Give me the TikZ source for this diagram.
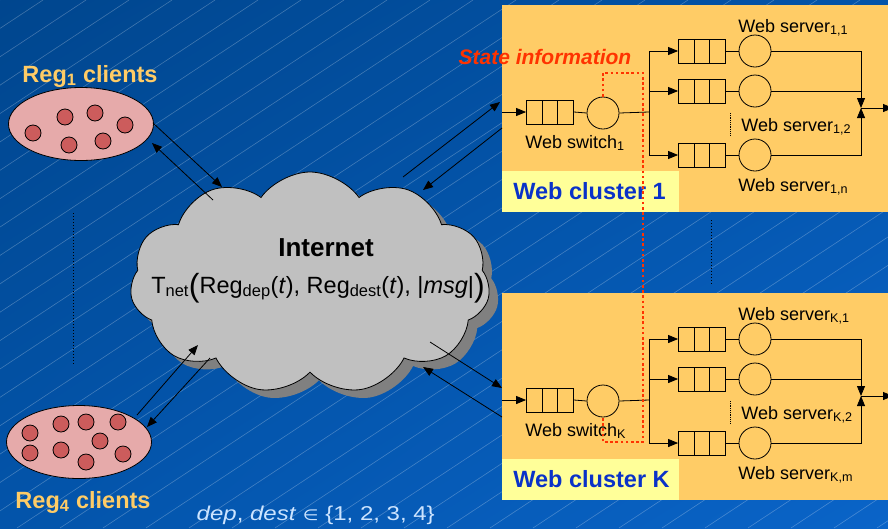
\documentclass[tikz,border=0pt]{standalone}
\usepackage{fontspec}
\setmainfont{Liberation Sans}
\newfontfamily\symbfont{DejaVu Sans}
\usepackage{tikz}
\usetikzlibrary{shapes.geometric, shapes.symbols, shadings, arrows.meta, positioning, calc}
\definecolor{bgdark}{HTML}{00468E}
\definecolor{bgmid}{HTML}{0354AA}
\definecolor{bglight}{HTML}{0A64C8}
\definecolor{clientyellow}{HTML}{FFCC66}
\definecolor{clientpink}{HTML}{E6AAAA}
\definecolor{clientred}{HTML}{CC5C5C}
\definecolor{cloudgray}{HTML}{C0C0C0}
\definecolor{shadowgray}{HTML}{808080}
\definecolor{clusterbg}{HTML}{FFCC66}
\definecolor{labelbg}{HTML}{FFFF99}
\definecolor{clusterblue}{HTML}{0A32C8}
\definecolor{stateorange}{HTML}{FF3300}
\definecolor{noteblue}{HTML}{CCE4FF}

\begin{document}
\begin{tikzpicture}[x=1pt, y=-1pt, line width=0.8pt,
  tip/.style={-{Triangle[length=10pt,width=8pt]}},
  stripe/.style={white, opacity=0.25, line width=0.6pt},
  client/.style={circle, draw, fill=clientred, minimum size=16pt, inner sep=0pt},
  region/.style={ellipse, draw, fill=clientpink, minimum width=145pt, minimum height=73pt},
  regfont/.style={font=\fontsize{23.5}{26}\selectfont\bfseries, text=clientyellow},
  inetcloud/.style={cloud, cloud puffs=11, cloud puff arc=110, aspect=1.6,
    minimum width=360pt, minimum height=222pt, inner sep=0pt},
  clusterbox/.style={fill=clusterbg, minimum width=392pt, minimum height=207pt, inner sep=0pt},
  labelbox/.style={fill=labelbg, minimum width=177pt, minimum height=41pt, inner sep=0pt},
  queuebox/.style={draw, fill=clusterbg, minimum width=47pt, minimum height=24pt, inner sep=0pt,
    path picture={
      \draw ([xshift=15.67pt]path picture bounding box.north west) -- ([xshift=15.67pt]path picture bounding box.south west);
      \draw ([xshift=31.33pt]path picture bounding box.north west) -- ([xshift=31.33pt]path picture bounding box.south west);}},
  srvcirc/.style={circle, draw, fill=clusterbg, minimum size=32pt, inner sep=0pt},
  srvfont/.style={font=\fontsize{18}{20}\selectfont, anchor=base west, inner sep=0pt},
  clusterfont/.style={font=\fontsize{23.5}{26}\selectfont\bfseries, text=clusterblue, anchor=base west, inner sep=0pt},
  statedots/.style={stateorange, line width=2.6pt, dash pattern=on 2.6pt off 2.6pt},
  moredots/.style={line width=1pt, dash pattern=on 1pt off 2pt}]

\useasboundingbox (0,0) rectangle (888,528);

% --- Background ---
\shade[upper left=bgdark, upper right=bgmid, lower left=bgmid, lower right=bglight] (0,0) rectangle (888,528);
\begin{scope}
\clip (0,0) rectangle (888,528);
\foreach \x in {0,43,...,1720}
  \draw[stripe] (\x,0) -- ++(-800,528);
\end{scope}

% --- Internet cloud ---
\node[inetcloud, fill=shadowgray] (inetshadow) at (319,291) {};
\node[inetcloud, draw, fill=cloudgray] (inet) at (310,283) {};
\node[font=\fontsize{26}{28}\selectfont\bfseries, anchor=base] (inetname) at (326,256) {Internet};
\node[font=\fontsize{23.5}{26}\selectfont, anchor=base] (tnet) at (318,293)
  {T\textsubscript{net}\raisebox{-3pt}{\fontsize{32}{32}\selectfont(}Reg\textsubscript{dep}(\textit{t}), Reg\textsubscript{dest}(\textit{t}), |\textit{msg}|\raisebox{-3pt}{\fontsize{32}{32}\selectfont)}};

% --- Client regions ---
\node[regfont, anchor=base] (reg1name) at (90,82) {Reg\textsubscript{1} clients};
\node[region] (reg1) at (81,124) {};
\foreach \p [count=\i] in {(33,133),(65,117),(95,113),(125,125),(69,145),(103,141)}
  \node[client] (r1c\i) at \p {};

\node[region] (reg4) at (79,442) {};
\foreach \p [count=\i] in {(30,433),(61,424),(86,422),(118,422),(100,441),(30,453),(61,450),(86,462),(123,454)}
  \node[client] (r4c\i) at \p {};
\node[regfont, anchor=base] (reg4name) at (83,508) {Reg\textsubscript{4} clients};

\draw[moredots] (73,213) -- (73,365);

\node[font=\fontsize{20}{22}\selectfont, text=noteblue, anchor=base west] (note) at (193,520)
  {\scalebox{1.2}[1]{\textit{dep}, \textit{dest} {\symbfont\fontsize{15}{16}\selectfont ∈} \{1, 2, 3, 4\}}};

% --- Web clusters ---
\foreach \k/\dy/\lst in {1/0/n, K/288/m} {
\begin{scope}[shift={(0,\dy)}]
\node[clusterbox, anchor=north west] (box\k) at (502,5) {};
\node[labelbox, anchor=north west] (lblbox\k) at (502,171) {};
\node[clusterfont] (lbl\k) at (513,199) {Web cluster \k};
% switch
\coordinate (in\k) at (502,112);
\node[queuebox] (swq\k) at (550,112) {};
\node[srvcirc] (sw\k) at (603,113) {};
\node[srvfont] (swname\k) at (525,148) {Web switch\textsubscript{\k}};
\draw[tip] (in\k) -- (swq\k.west);
\draw (swq\k.east) -- (sw\k.west);
\coordinate (br\k) at (649,112);
\draw (sw\k.east) -- (br\k);
% servers
\foreach \j/\y in {1/51, 2/91, 3/155} {
  \node[queuebox] (sq\k\j) at (702,\y) {};
  \node[srvcirc] (s\k\j) at (755,\y) {};
  \draw[tip] (br\k) |- (sq\k\j.west);
  \draw (sq\k\j.east) -- (s\k\j.west);
}
\draw[moredots, line width=0.6pt, dash pattern=on 0.6pt off 1.2pt] (730,113) -- (730,135);
\node[srvfont] (sname\k1) at (738,32) {Web server\textsubscript{\k,1}};
\node[srvfont] (sname\k2) at (741,131) {Web server\textsubscript{\k,2}};
\node[srvfont] (sname\k3) at (738,191) {Web server\textsubscript{\k,\lst}};
% merge
\coordinate (mg\k) at (861,108);
\coordinate (out\k) at (893,108);
\draw[tip] (s\k1.east) -| (mg\k);
\draw[tip] (s\k3.east) -| (mg\k);
\draw (s\k2.east) -- (s\k2.east -| mg\k);
\draw[tip] (mg\k) -- (out\k);
\end{scope}
}

\draw[moredots] (711,220) -- (711,285);

% --- Traffic between regions, Internet and clusters ---
\coordinate (a1s) at (153,123); \coordinate (a1e) at (222,187);
\coordinate (a2s) at (213,200); \coordinate (a2e) at (152,143);
\coordinate (b1s) at (403,177); \coordinate (b1e) at (500,102);
\coordinate (b2s) at (502,128); \coordinate (b2e) at (423,190);
\coordinate (c1s) at (430,342); \coordinate (c1e) at (502,388);
\coordinate (c2s) at (502,417); \coordinate (c2e) at (423,367);
\coordinate (d1s) at (137,415); \coordinate (d1e) at (198,345);
\coordinate (d2s) at (210,358); \coordinate (d2e) at (147,427);
\foreach \a in {a1,a2,b1,b2,c1,c2,d1,d2}
  \draw[tip] (\a s) -- (\a e);

% --- State information ---
\draw[statedots] (sw1.north) |- (643,73) -- (643,442) -| (swK.south);
\node[font=\fontsize{21}{24}\selectfont\bfseries\itshape, text=stateorange, anchor=base east] (state) at (635,64) {State information};

\end{tikzpicture}
\end{document}
